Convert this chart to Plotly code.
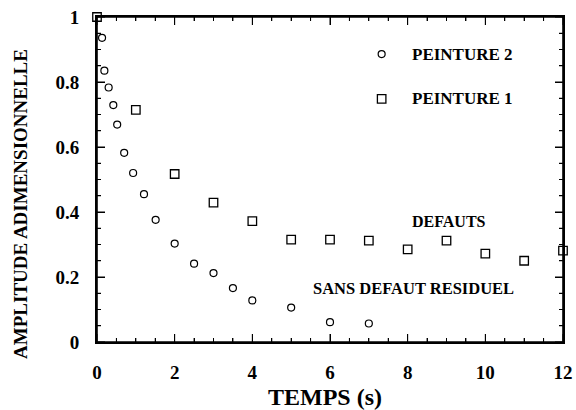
import plotly.graph_objects as go

# PEINTURE 2 (circles)
p2_t = [0.13, 0.19, 0.30, 0.42, 0.52, 0.70, 0.93, 1.21, 1.51, 2.0, 2.5, 3.0, 3.5, 4.0, 5.0, 6.0, 7.0]
p2_a = [0.936, 0.835, 0.783, 0.729, 0.669, 0.582, 0.52, 0.455, 0.376, 0.303, 0.241, 0.212, 0.166, 0.128, 0.106, 0.061, 0.057]

# PEINTURE 1 (squares)
p1_t = [0, 1, 2, 3, 4, 5, 6, 7, 8, 9, 10, 11, 12]
p1_a = [1.0, 0.714, 0.517, 0.429, 0.372, 0.315, 0.315, 0.312, 0.285, 0.312, 0.272, 0.250, 0.281]

x_range = [0, 12]
y_range = [0, 1]
x_ticks = [0, 2, 4, 6, 8, 10, 12]
y_ticks = [0, 0.2, 0.4, 0.6, 0.8, 1]
x_minor = [i * 0.5 for i in range(25)]
y_minor = [i * 0.05 for i in range(21)]

FONT = "Liberation Serif"
circ = dict(symbol="circle-open", size=7, color="black", line=dict(width=1.2, color="black"))
sq = dict(symbol="square-open", size=8.5, color="black", line=dict(width=1.3, color="black"))

fig = go.Figure()

# frame and tick marks drawn as line traces on the same scales as the axes
fig.add_trace(go.Scatter(x=[x_range[0], x_range[1], x_range[1], x_range[0], x_range[0]],
                         y=[y_range[0], y_range[0], y_range[1], y_range[1], y_range[0]],
                         mode="lines", line=dict(color="black", width=1.6), cliponaxis=False,
                         hoverinfo="skip"))
xl_major = 8 / 325 * (y_range[1] - y_range[0])
xl_minor = 4 / 325 * (y_range[1] - y_range[0])
yl_major = 8 / 466 * (x_range[1] - x_range[0])
yl_minor = 4 / 466 * (x_range[1] - x_range[0])
tx, ty = [], []
for xv in x_minor:
    ln = xl_major if xv in x_ticks else xl_minor
    tx += [xv, xv, None, xv, xv, None]
    ty += [y_range[0], y_range[0] + ln, None, y_range[1], y_range[1] - ln, None]
for yv in y_minor:
    major = any(abs(yv - t) < 1e-9 for t in y_ticks)
    ln = yl_major if major else yl_minor
    tx += [x_range[0], x_range[0] + ln, None, x_range[1], x_range[1] - ln, None]
    ty += [yv, yv, None, yv, yv, None]
fig.add_trace(go.Scatter(x=tx, y=ty, mode="lines", line=dict(color="black", width=1),
                         cliponaxis=False, hoverinfo="skip", connectgaps=False))

fig.add_trace(go.Scatter(x=p2_t, y=p2_a, mode="markers", name="PEINTURE 2", cliponaxis=False, marker=circ))
fig.add_trace(go.Scatter(x=p1_t, y=p1_a, mode="markers", name="PEINTURE 1", cliponaxis=False, marker=sq))
# legend markers
fig.add_trace(go.Scatter(x=[7.33], y=[0.886], mode="markers", cliponaxis=False, marker=circ))
fig.add_trace(go.Scatter(x=[7.33], y=[0.748], mode="markers", cliponaxis=False, marker=sq))

tickfont = dict(family=FONT, size=19, color="black", weight="bold")
ann_font = dict(family=FONT, color="black", weight="bold")

axis_style = dict(showline=True, linecolor="black", linewidth=2, mirror="ticks",
                  ticks="inside", ticklen=8, tickwidth=1, tickcolor="black",
                  showgrid=False, zeroline=False, automargin=False,
                  tickfont=tickfont, ticklabelstandoff=12)

fig.update_layout(
    width=576, height=410,
    margin=dict(l=97, r=13, t=17, b=68, autoexpand=False),
    paper_bgcolor="white", plot_bgcolor="white",
    showlegend=False,
    xaxis=dict(range=x_range, tickvals=x_ticks,
               minor=dict(dtick=0.5, ticks="inside", ticklen=4, tickcolor="black"),
               **axis_style),
    yaxis=dict(range=y_range, tickvals=y_ticks,
               minor=dict(dtick=0.05, ticks="inside", ticklen=4, tickcolor="black"),
               **axis_style),
    annotations=[
        dict(text="TEMPS (s)", xref="paper", yref="paper", x=0.49, y=-0.17, showarrow=False,
             xanchor="center", yanchor="middle", font=dict(size=24, **ann_font)),
        dict(text="AMPLITUDE ADIMENSIONNELLE", xref="paper", yref="paper", x=-0.163, y=0.425,
             textangle=-90, showarrow=False, xanchor="center", yanchor="middle",
             font=dict(size=19, **ann_font)),
        dict(text="PEINTURE 2", x=8.05, y=0.886, xanchor="left", yanchor="middle", showarrow=False,
             font=dict(size=17, **ann_font)),
        dict(text="PEINTURE 1", x=8.05, y=0.748, xanchor="left", yanchor="middle", showarrow=False,
             font=dict(size=17, **ann_font)),
        dict(text="DEFAUTS", x=9.06, y=0.37, xanchor="center", yanchor="middle", showarrow=False,
             font=dict(size=16, **ann_font)),
        dict(text="SANS DEFAUT RESIDUEL", x=8.16, y=0.166, xanchor="center", yanchor="middle", showarrow=False,
             font=dict(size=16.5, **ann_font)),
    ],
)

fig.write_html("out.html", config={"displayModeBar": False},
               post_script="document.body.style.margin='0';document.body.style.overflow='hidden';")
